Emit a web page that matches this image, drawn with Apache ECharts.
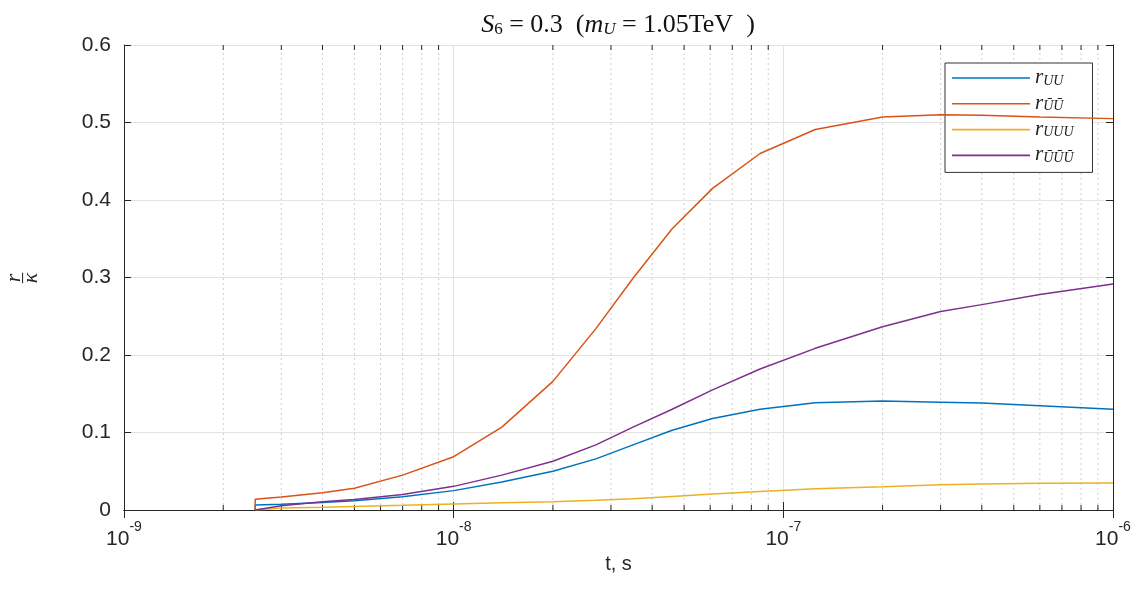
<!DOCTYPE html>
<html>
<head>
<meta charset="utf-8">
<script src="https://cdn.jsdelivr.net/npm/echarts@6/dist/echarts.min.js"></script>
<style>
  html, body { margin: 0; padding: 0; background: #ffffff; }
  #chart { width: 1140px; height: 590px; }
</style>
</head>
<body>
<div id="chart"></div>
<script>
// Time samples (s); the first sample is repeated so each curve rises from zero
const times = [2.5e-9, 2.5e-9, 3e-9, 4e-9, 5e-9, 7e-9, 1e-8, 1.4e-8, 2e-8, 2.7e-8, 3.5e-8,
  4.6e-8, 6.1e-8, 8.5e-8, 1.25e-7, 2e-7, 3e-7, 4e-7, 6e-7, 1e-6];

// r / kappa for each channel
const rUU = [0, 0.0065, 0.0075, 0.0098, 0.012, 0.017, 0.025, 0.036, 0.050, 0.066, 0.084,
  0.103, 0.118, 0.130, 0.1385, 0.1405, 0.139, 0.138, 0.1345, 0.130];
const rUbarUbar = [0, 0.0138, 0.0168, 0.0222, 0.028, 0.045, 0.0688, 0.107, 0.166, 0.234, 0.299,
  0.363, 0.415, 0.460, 0.491, 0.507, 0.510, 0.5095, 0.507, 0.505];
const rUUU = [0, 0.002, 0.0025, 0.0035, 0.0045, 0.006, 0.0077, 0.0092, 0.0105, 0.0125, 0.0145,
  0.0175, 0.0205, 0.024, 0.0275, 0.030, 0.0325, 0.0335, 0.0345, 0.035];
const rUbar3 = [0, 0.002, 0.0055, 0.0105, 0.0135, 0.020, 0.0305, 0.045, 0.063, 0.084, 0.107,
  0.130, 0.155, 0.182, 0.2086, 0.2365, 0.256, 0.265, 0.278, 0.2916];

const seriesNames = ['UU', 'ŪŪ', 'UUU', 'ŪŪŪ'];
const seriesValues = [rUU, rUbarUbar, rUUU, rUbar3];
const seriesColors = ['#0072BD', '#D95319', '#EDB120', '#7E2F8E'];

// Axis ranges and tick labels
const xMin = 1e-9, xMax = 1e-6;
const yMin = 0, yMax = 0.6, yStep = 0.1;
const yTickLabels = ['0', '0.1', '0.2', '0.3', '0.4', '0.5', '0.6'];
const minorDecades = [-9, -8, -7];
const minorMantissas = [2, 3, 4, 5, 6, 7, 8, 9];

const minorTicks = [];
minorDecades.forEach(d => minorMantissas.forEach(m => minorTicks.push([m * Math.pow(10, d)])));

const axisColor = '#262626';
const gridColor = '#e2e2e2';
const sans = 'Liberation Sans, Arial, sans-serif';
const serif = 'Liberation Serif, Times New Roman, serif';

const lineSeries = seriesNames.map((name, i) => ({
  name: name,
  type: 'line',
  xAxisIndex: 0,
  yAxisIndex: 0,
  symbol: 'none',
  showSymbol: false,
  smooth: false,
  z: 5,
  lineStyle: { color: seriesColors[i], width: 1.5 },
  itemStyle: { color: seriesColors[i] },
  data: times.map((t, k) => [t, seriesValues[i][k]])
}));

// Dotted minor grid lines plus short inward minor ticks on the bottom and top edges
const minorSeries = {
  type: 'custom',
  name: 'minor',
  xAxisIndex: 0,
  yAxisIndex: 0,
  silent: true,
  z: 1,
  data: minorTicks,
  encode: { x: 0 },
  renderItem: function (params, api) {
    const x = api.value(0);
    const b = api.coord([x, yMin]);
    const t = api.coord([x, yMax]);
    return {
      type: 'group',
      children: [
        { type: 'line', shape: { x1: b[0], y1: b[1], x2: t[0], y2: t[1] },
          style: { stroke: '#cfcfcf', lineWidth: 1, lineDash: [2, 3] } },
        { type: 'line', shape: { x1: b[0], y1: b[1], x2: b[0], y2: b[1] - 5 },
          style: { stroke: axisColor, lineWidth: 1 } },
        { type: 'line', shape: { x1: t[0], y1: t[1], x2: t[0], y2: t[1] + 5 },
          style: { stroke: axisColor, lineWidth: 1 } }
      ]
    };
  }
};

const titleFont = { fontFamily: serif, fontWeight: 'normal', color: '#111' };

const chart = echarts.init(document.getElementById('chart'), null, { renderer: 'canvas' });

chart.setOption({
  backgroundColor: '#ffffff',
  animation: false,
  title: {
    left: 613,
    top: 3,
    textAlign: 'center',
    text: '{i|S}{sub|6}{r| = 0.3  (}{i|m}{subi|U}{r| = 1.05TeV  )}',
    textStyle: {
      fontWeight: 'normal',
      rich: {
        i: Object.assign({ fontStyle: 'italic', fontSize: 26, verticalAlign: 'bottom', lineHeight: 30 }, titleFont),
        r: Object.assign({ fontSize: 26, verticalAlign: 'bottom', lineHeight: 30 }, titleFont),
        sub: Object.assign({ fontSize: 17, verticalAlign: 'bottom', lineHeight: 22 }, titleFont),
        subi: Object.assign({ fontStyle: 'italic', fontSize: 17, verticalAlign: 'bottom', lineHeight: 22 }, titleFont)
      }
    }
  },
  grid: { left: 124, right: 27, top: 45, bottom: 80, containLabel: false, outerBoundsMode: 'none' },
  // Rotated fraction r / kappa used as the y-axis title
  graphic: [{
    type: 'text',
    x: 23,
    y: 278,
    rotation: Math.PI / 2,
    silent: true,
    style: {
      text: '{a|r}\n{l|–}\n{a|κ}',
      align: 'center',
      verticalAlign: 'middle',
      rich: {
        a: { fontFamily: serif, fontStyle: 'italic', fontSize: 22, fill: axisColor, lineHeight: 11, align: 'center' },
        l: { fontFamily: serif, fontSize: 20, fill: axisColor, lineHeight: 6, align: 'center' }
      }
    }
  }],
  legend: {
    data: seriesNames.map(n => ({ name: n, icon: 'path://M0,0H78V1.6H0Z' })),
    orient: 'vertical',
    left: 945,
    top: 63,
    itemWidth: 78,
    itemHeight: 14,
    itemGap: 4.8,
    padding: [4, 19, 7, 7],
    backgroundColor: '#ffffff',
    borderColor: '#333333',
    borderWidth: 1,
    selectedMode: false,
    formatter: name => '{r|r}{s|' + name + '}',
    textStyle: {
      rich: {
        r: { fontFamily: serif, fontStyle: 'italic', fontSize: 21, color: '#222', verticalAlign: 'bottom', lineHeight: 20 },
        s: { fontFamily: serif, fontStyle: 'italic', fontSize: 14, color: '#222', verticalAlign: 'bottom', lineHeight: 14 }
      }
    }
  },
  xAxis: [
    {
      type: 'log',
      logBase: 10,
      min: xMin,
      max: xMax,
      position: 'bottom',
      gridIndex: 0,
      axisLine: { show: true, lineStyle: { color: axisColor, width: 1 } },
      axisTick: { show: true, inside: true, length: 8, lineStyle: { color: axisColor } },
      splitLine: { show: true, lineStyle: { color: gridColor, width: 1 } },
      axisLabel: {
        margin: 10,
        formatter: v => '{b|10}{e|' + Math.round(Math.log10(v)) + '}',
        rich: {
          b: { fontFamily: sans, fontSize: 21, color: axisColor, verticalAlign: 'bottom', lineHeight: 30 },
          e: { fontFamily: sans, fontSize: 14, color: axisColor, verticalAlign: 'top', lineHeight: 14 }
        }
      },
      name: 't, s',
      nameLocation: 'middle',
      nameGap: 38,
      nameTextStyle: { fontFamily: sans, fontSize: 20, color: axisColor }
    },
    {
      type: 'log',
      logBase: 10,
      min: xMin,
      max: xMax,
      position: 'top',
      gridIndex: 0,
      axisLine: { show: true, lineStyle: { color: axisColor, width: 1 } },
      axisTick: { show: true, inside: true, length: 8, lineStyle: { color: axisColor } },
      splitLine: { show: false },
      axisLabel: { show: false }
    }
  ],
  yAxis: [
    {
      type: 'value',
      min: yMin,
      max: yMax,
      interval: yStep,
      position: 'left',
      gridIndex: 0,
      axisLine: { show: true, lineStyle: { color: axisColor, width: 1 } },
      axisTick: { show: true, inside: true, length: 7, lineStyle: { color: axisColor } },
      splitLine: { show: true, lineStyle: { color: gridColor, width: 1 } },
      axisLabel: {
        margin: 13,
        fontFamily: sans,
        fontSize: 21,
        color: axisColor,
        formatter: v => yTickLabels[Math.round(v / yStep)]
      }
    },
    {
      type: 'value',
      min: yMin,
      max: yMax,
      interval: yStep,
      position: 'right',
      gridIndex: 0,
      axisLine: { show: true, lineStyle: { color: axisColor, width: 1 } },
      axisTick: { show: true, inside: true, length: 7, lineStyle: { color: axisColor } },
      splitLine: { show: false },
      axisLabel: { show: false }
    }
  ],
  series: [minorSeries].concat(lineSeries)
});
</script>
</body>
</html>
